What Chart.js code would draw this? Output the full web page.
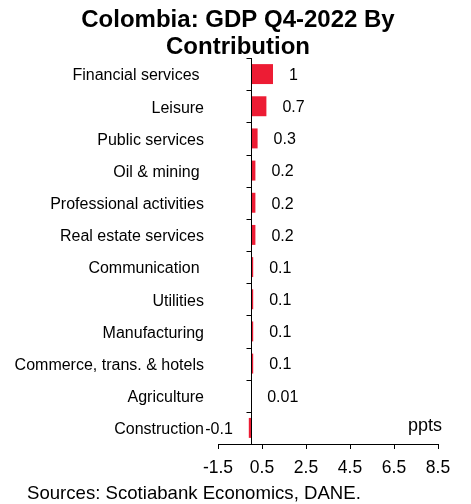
<!DOCTYPE html>
<html><head><meta charset="utf-8">
<script src="https://cdn.jsdelivr.net/npm/chart.js@4/dist/chart.umd.min.js"></script>
<style>html,body{margin:0;padding:0;background:#fff;overflow:hidden}#wrap{width:471px;height:504px;position:relative}</style>
</head><body><div id="wrap"><canvas id="c" width="471" height="504"></canvas></div>
<script>
const categories = ['Financial services ', 'Leisure', 'Public services', 'Oil & mining ', 'Professional activities', 'Real estate services', 'Communication ', 'Utilities', 'Manufacturing', 'Commerce, trans. & hotels', 'Agriculture', 'Construction'];
const values = [1, 0.7, 0.3, 0.2, 0.2, 0.2, 0.1, 0.1, 0.1, 0.1, 0.01, -0.1];
const xTicks = [-1.5, 0.5, 2.5, 4.5, 6.5, 8.5];
const titleLines = ['Colombia: GDP Q4-2022 By', 'Contribution'];
const sourceText = 'Sources: Scotiabank Economics, DANE.';
const unitText = 'ppts';

const FONT = "'Liberation Sans', Arial, sans-serif";
Chart.defaults.font.family = FONT;
Chart.defaults.color = '#000';

const extras = {
  id: 'extras',
  afterDraw(chart) {
    const ctx = chart.ctx;
    const xs = chart.scales.x, ys = chart.scales.y, ca = chart.chartArea;
    const x0 = Math.round(xs.getPixelForValue(0)) + 0.5;
    ctx.save();
    ctx.strokeStyle = '#000';
    ctx.lineWidth = 1;
    ctx.beginPath();
    ctx.moveTo(x0, ca.top);
    ctx.lineTo(x0, ca.bottom);
    const n = categories.length;
    const band = (ca.bottom - ca.top) / n;
    for (let i = 0; i < n; i++) {
      const yb = Math.round(ys.getPixelForValue(i) - band / 2) + 0.5;
      ctx.moveTo(x0 - 5, yb);
      ctx.lineTo(x0, yb);
    }
    ctx.stroke();
    // data labels
    const meta = chart.getDatasetMeta(0);
    ctx.fillStyle = '#000';
    ctx.font = '16px ' + FONT;
    ctx.textBaseline = 'middle';
    meta.data.forEach((bar, i) => {
      const v = values[i];
      if (v >= 0) { ctx.textAlign = 'left'; ctx.fillText(String(v), bar.x + 16, bar.y + 1.5); }
      else { ctx.textAlign = 'right'; ctx.fillText(String(v), bar.x - 16, bar.y + 1.5); }
    });
    // title
    ctx.font = 'bold 24px ' + FONT;
    ctx.textAlign = 'center';
    ctx.textBaseline = 'alphabetic';
    ctx.fillText(titleLines[0], 238, 27);
    ctx.fillText(titleLines[1], 238, 54);
    // unit
    ctx.font = '18px ' + FONT;
    ctx.textAlign = 'right';
    ctx.fillText(unitText, 442, 431);
    // source
    ctx.font = '18.6px ' + FONT;
    ctx.textAlign = 'left';
    ctx.fillText(sourceText, 27, 499);
    ctx.restore();
  }
};

new Chart(document.getElementById('c'), {
  type: 'bar',
  data: {
    labels: categories,
    datasets: [{
      data: values,
      backgroundColor: '#ED1C34',
      borderWidth: 0,
      barPercentage: 0.62,
      categoryPercentage: 1.0
    }]
  },
  options: {
    indexAxis: 'y',
    responsive: false,
    animation: false,
    devicePixelRatio: 1,
    layout: { padding: { top: 58, right: 33, bottom: 23, left: 0 } },
    plugins: { legend: { display: false }, tooltip: { enabled: false }, title: { display: false } },
    scales: {
      x: {
        type: 'linear',
        min: -1.5, max: 8.5,
        afterBuildTicks: s => { s.ticks = xTicks.map(v => ({ value: v })); },
        afterFit: s => { s.height = 37; },
        grid: { drawOnChartArea: false, drawTicks: true, tickLength: 5, color: '#000' },
        border: { display: true, color: '#000', width: 1 },
        ticks: { color: '#000', font: { size: 17.5 }, padding: 9, maxRotation: 0, autoSkip: false, callback: v => String(v) }
      },
      y: {
        type: 'category',
        afterFit: s => { s.width = 218; },
        grid: { display: false, drawTicks: false },
        border: { display: false },
        ticks: { color: '#000', font: { size: 16 }, padding: 14, labelOffset: 2, autoSkip: false }
      }
    }
  },
  plugins: [extras]
});
</script></body></html>
